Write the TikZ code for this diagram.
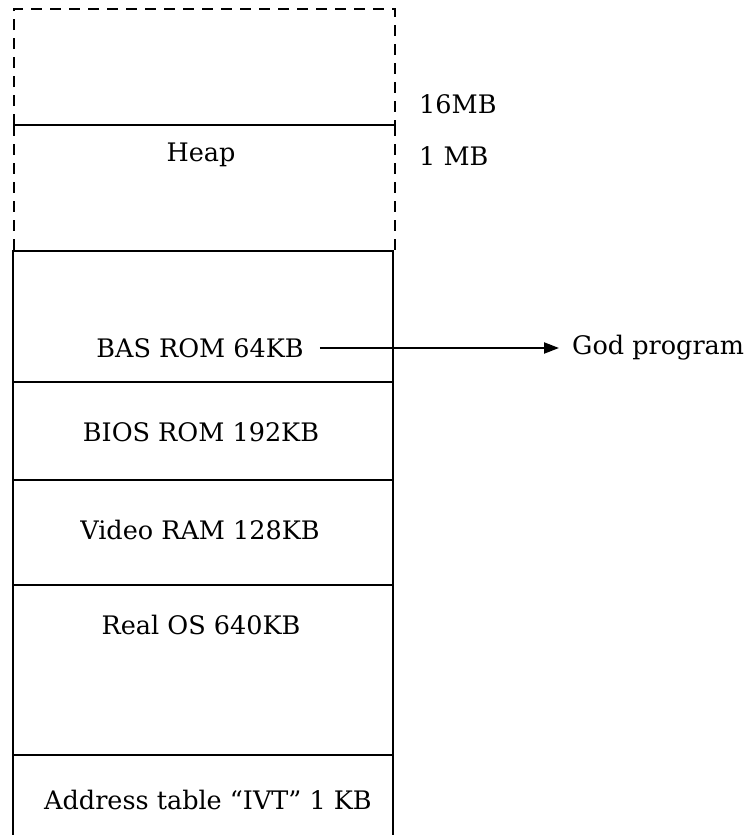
\documentclass[tikz,border=0pt]{standalone}
\usepackage{fontspec}
\setmainfont{DejaVu Serif}
\usetikzlibrary{arrows.meta}
\begin{document}
\begin{tikzpicture}[x=1pt,y=-1pt,
  wall/.style={line width=2.7pt},
  dashwall/.style={line width=2.7pt, dash pattern=on 11pt off 8pt},
  lbl/.style={font=\fontsize{25.5}{28}\selectfont, inner sep=0pt, anchor=center},
  sidelbl/.style={font=\fontsize{25.5}{28}\selectfont, inner sep=0pt, anchor=west}]
\useasboundingbox (0,0) rectangle (746,835);
% extended memory region (dashed)
\draw[dashwall] (14,125) -- (14,9) -- (395,9) -- (395,125);
\draw[dashwall] (14,125) -- (14,251);
\draw[dashwall] (395,125) -- (395,251);
\draw[wall] (14,125) -- (394,125);
% conventional memory (solid)
\draw[wall] (13,835) -- (13,251) -- (393,251) -- (393,835);
\draw[wall] (13,382) -- (393,382);
\draw[wall] (13,480) -- (393,480);
\draw[wall] (13,585) -- (393,585);
\draw[wall] (13,755) -- (393,755);
% region labels
\node[lbl] (heap) at (201,155) {Heap};
\node[lbl] (bas) at (200,348) {BAS ROM 64KB};
\node[lbl] (bios) at (201,432) {BIOS ROM 192KB};
\node[lbl] (video) at (200,530) {Video RAM 128KB};
\node[lbl] (real) at (201,625) {Real OS 640KB};
\node[lbl] (ivt) at (208,800) {Address table “IVT” 1 KB};
% boundary labels
\node[sidelbl] (mb16) at (419,104) {16MB};
\node[sidelbl] (mb1) at (419,156) {1 MB};
% pointer to boot program
\node[sidelbl] (god) at (572,348) {God program};
\draw[line width=2.2pt, -{Triangle[length=15pt,width=11pt]}] ([xshift=16pt]bas.east) -- ([xshift=-13pt]god.west);
\end{tikzpicture}
\end{document}
